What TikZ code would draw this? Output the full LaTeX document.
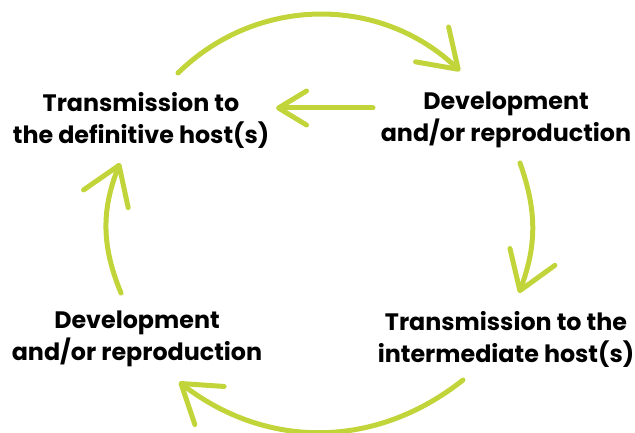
\documentclass[tikz,border=0pt]{standalone}
\usepackage{fontspec}
\setmainfont{Poppins}
\usepackage{xcolor}
\usetikzlibrary{arrows.meta}
\definecolor{leafgreen}{RGB}{193,212,58}
\tikzset{
stage/.style={align=center, font=\bfseries\fontsize{23.8}{32}\selectfont, inner sep=0pt},
cycle arrow/.style={leafgreen, line width=5pt, line cap=round,
                    -{Straight Barb[round, length=36pt, width=48pt]}},
short arrow/.style={leafgreen, line width=5pt, line cap=round,
                    -{Straight Barb[round, length=28pt, width=34pt]}}
}
\begin{document}
\begin{tikzpicture}[x=1pt,y=1pt]
\useasboundingbox (0,0) rectangle (635,432);

% Stages
\node[stage] (defhost) at (141,312) {Transmission to\\the definitive host(s)};
\node[stage] (devtop) at (506,312) {Development\\and/or reproduction};
\node[stage] (devbottom) at (137,93) {Development\\and/or reproduction};
\node[stage] (interhost) at (506,93) {Transmission to the\\intermediate host(s)};

% Coordinates
\coordinate (defhost_top) at (178,359);
\coordinate (devtop_top) at (460,361);
\coordinate (devtop_left) at (373,324);
\coordinate (defhost_right) at (276,324);
\coordinate (devtop_bottom) at (520,269);
\coordinate (interhost_top) at (519,139);
\coordinate (interhost_bottom) at (463,52);
\coordinate (devbottom_bottom) at (179,50);
\coordinate (devbottom_top) at (121,139);
\coordinate (defhost_bottom) at (120,269);

% Arrows
\draw[cycle arrow] (defhost_top) to [bend left=44] (devtop_top);
\draw[short arrow] (devtop_left) -- (defhost_right);
\draw[cycle arrow] (devtop_bottom) to [bend left=20] (interhost_top);
\draw[cycle arrow] (interhost_bottom) to [bend left=38] (devbottom_bottom);
\draw[cycle arrow] (devbottom_top) to [bend left=22] (defhost_bottom);

\end{tikzpicture}
\end{document}
